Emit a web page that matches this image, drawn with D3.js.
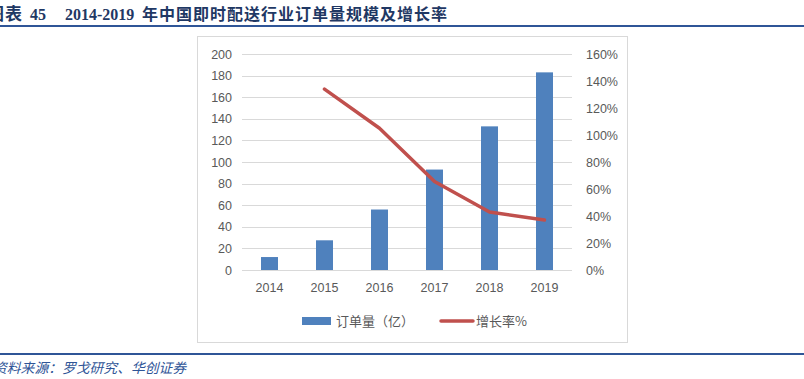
<!DOCTYPE html>
<html>
<head>
<meta charset="utf-8">
<script src="https://d3js.org/d3.v7.min.js"></script>
<style>
  body { margin: 0; background: #fff; }
  svg { display: block; }
</style>
</head>
<body>
<div id="chart"></div>
<script>
// data
var years = ['2014', '2015', '2016', '2017', '2018', '2019'];
var orders = [12, 27.5, 56, 93, 133, 183];          // 订单量（亿）
var growth = [null, 134, 105, 65.5, 43, 37];        // 增长率%
var leftTicks = [0, 20, 40, 60, 80, 100, 120, 140, 160, 180, 200];
var rightTicks = [0, 20, 40, 60, 80, 100, 120, 140, 160];

var W = 804, H = 379;
var plot = {left: 242, right: 572, top: 54, bottom: 270};
var tickFont = '"Liberation Sans", "Noto Sans CJK SC", sans-serif';

var svg = d3.select('#chart').append('svg')
    .attr('width', W)
    .attr('height', H);

// title (left part is cut off by the page edge, as in the source image)
var title = svg.append('text')
    .attr('y', 20)
    .attr('fill', '#1f3864')
    .style('font-weight', 'bold');
title.append('tspan').attr('x', -13).style('font-family', '"Noto Sans CJK SC"').style('font-size', '17px').style('letter-spacing', '1px').text('图表');
title.append('tspan').attr('x', 30).style('font-family', '"Liberation Serif"').style('font-size', '16px').text('45');
title.append('tspan').attr('x', 65).style('font-family', '"Liberation Serif"').style('font-size', '16px').text('2014-2019');
title.append('tspan').attr('x', 142).style('font-family', '"Noto Sans CJK SC"').style('font-size', '16px').style('letter-spacing', '1px').text('年中国即时配送行业订单量规模及增长率');

// blue rules
svg.append('rect').attr('x', 0).attr('y', 25).attr('width', W).attr('height', 2).attr('fill', '#2f5597');
svg.append('rect').attr('x', 0).attr('y', 353).attr('width', W).attr('height', 2).attr('fill', '#2f5597');

// source
svg.append('text')
    .attr('x', -7)
    .attr('y', 373)
    .attr('fill', '#2f5597')
    .style('font-family', '"Noto Sans CJK SC"')
    .style('font-size', '13.8px')
    .style('font-style', 'italic')
    .text('资料来源：罗戈研究、华创证券');

// chart frame
svg.append('rect')
    .attr('x', 197.5).attr('y', 36.5)
    .attr('width', 430).attr('height', 306)
    .attr('fill', 'none')
    .attr('stroke', '#d9d9d9');

// scales
var x = d3.scaleBand().domain(years).range([plot.left, plot.right]);
var yL = d3.scaleLinear().domain([0, 200]).range([plot.bottom, plot.top]);
var yR = d3.scaleLinear().domain([0, 160]).range([plot.bottom, plot.top]);

// gridlines
svg.append('g').selectAll('line')
    .data(leftTicks)
    .enter()
    .append('line')
    .attr('x1', plot.left).attr('x2', plot.right)
    .attr('y1', d => Math.round(yL(d)) + 0.5)
    .attr('y2', d => Math.round(yL(d)) + 0.5)
    .attr('stroke', '#d9d9d9');

// left axis
var axL = svg.append('g')
    .attr('transform', 'translate(' + (plot.left - 10) + ',0)')
    .call(d3.axisLeft(yL).tickValues(leftTicks).tickSize(0).tickPadding(0));
axL.select('.domain').remove();
axL.selectAll('text').attr('fill', '#595959').style('font-family', tickFont).style('font-size', '12.5px');

// right axis
var axR = svg.append('g')
    .attr('transform', 'translate(586,0)')
    .call(d3.axisRight(yR).tickValues(rightTicks).tickSize(0).tickPadding(0).tickFormat(d => d + '%'));
axR.select('.domain').remove();
axR.selectAll('text').attr('fill', '#595959').style('font-family', tickFont).style('font-size', '12.5px');

// x axis labels
var axX = svg.append('g')
    .attr('transform', 'translate(0,' + (plot.bottom + 13) + ')')
    .call(d3.axisBottom(x).tickSize(0).tickPadding(0));
axX.select('.domain').remove();
axX.selectAll('text').attr('fill', '#595959').style('font-family', tickFont).style('font-size', '12.5px');

// bars
var barW = 17;
svg.append('g').selectAll('rect')
    .data(years)
    .enter()
    .append('rect')
    .attr('x', d => x(d) + x.bandwidth() / 2 - barW / 2)
    .attr('y', (d, i) => yL(orders[i]))
    .attr('width', barW)
    .attr('height', (d, i) => yL(0) - yL(orders[i]))
    .attr('fill', '#4f81bd');

// growth line
var lineData = years.map((d, i) => ({year: d, v: growth[i]})).filter(d => d.v !== null);
var line = d3.line()
    .x(d => x(d.year) + x.bandwidth() / 2)
    .y(d => yR(d.v));
svg.append('path')
    .datum(lineData)
    .attr('d', line)
    .attr('fill', 'none')
    .attr('stroke', '#c0504d')
    .attr('stroke-width', 3.5)
    .attr('stroke-linecap', 'round')
    .attr('stroke-linejoin', 'round');

// legend
var legY = 321;
var legFont = '"Noto Sans CJK SC", sans-serif';
svg.append('rect').attr('x', 302).attr('y', legY - 4).attr('width', 29).attr('height', 8).attr('fill', '#4f81bd');
svg.append('text').attr('x', 336).attr('y', legY).attr('dy', '0.35em')
    .attr('fill', '#595959').style('font-family', legFont).style('font-size', '13px')
    .text('订单量（亿）');
svg.append('line').attr('x1', 441).attr('x2', 473).attr('y1', legY).attr('y2', legY)
    .attr('stroke', '#c0504d').attr('stroke-width', 3.5).attr('stroke-linecap', 'round');
svg.append('text').attr('x', 476).attr('y', legY).attr('dy', '0.35em')
    .attr('fill', '#595959').style('font-family', legFont).style('font-size', '13px')
    .text('增长率%');
</script>
</body>
</html>
